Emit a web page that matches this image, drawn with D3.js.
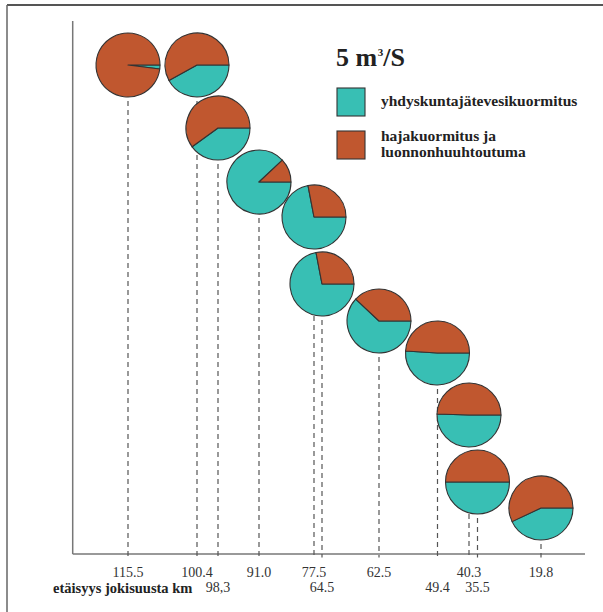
<!DOCTYPE html>
<html>
<head>
<meta charset="utf-8">
<script src="https://cdn.jsdelivr.net/npm/d3@7"></script>
<style>
  html, body { margin: 0; padding: 0; background: #fff; }
  svg { display: block; }
</style>
</head>
<body>
<svg id="chart" width="603" height="612"></svg>
<script>
// ---- DATA ----
const stationLabels = ["115.5", "100.4", "98,3", "91.0", "77.5", "64.5", "62.5", "49.4", "40.3", "35.5", "19.8"];
const distanceKm   = [115.5, 100.4, 98.3, 91.0, 77.5, 64.5, 62.5, 49.4, 40.3, 35.5, 19.8];
// share (%) of municipal wastewater load (yhdyskuntajätevesikuormitus)
const municipalShare = [2, 42, 40, 88, 72, 72, 62, 51, 50.5, 50, 43];
// share (%) of diffuse load and natural leaching (hajakuormitus ja luonnonhuuhtoutuma)
const diffuseShare   = [98, 58, 60, 12, 28, 28, 38, 49, 49.5, 50, 57];
const seriesNames = ["yhdyskuntajätevesikuormitus", ["hajakuormitus ja", "luonnonhuuhtoutuma"]];
const titleMain = "5 m";
const titleSup = "3";
const titleEnd = "/S";
const axisTitle = "etäisyys jokisuusta km";

// ---- LAYOUT (schematic positions) ----
const pieXpx = [128, 197, 218, 259, 314, 322, 379, 437.5, 469, 477.5, 541];
const pieYpx = [65, 65, 128, 182, 217, 284, 321, 353, 415, 482, 508];
const labelRow = [0, 0, 1, 0, 0, 1, 0, 1, 0, 1, 0];
const colors = ["#38bfb4", "#c0572f"];
const R = 32;

const svg = d3.select("#chart");
const font = "'Liberation Serif', 'Times New Roman', serif";

const x = d3.scaleLinear().domain(distanceKm).range(pieXpx);
const yPos = d3.scaleOrdinal().domain(stationLabels).range(pieYpx);

const axisY = 554, axisX0 = 72.7, axisX1 = 585, axisTop = 21;

// frame
svg.append("line").attr("x1", 7).attr("y1", 5).attr("x2", 603).attr("y2", 5)
  .attr("stroke", "#555").attr("stroke-width", 1.8);
svg.append("line").attr("x1", 7).attr("y1", 5).attr("x2", 7).attr("y2", 612)
  .attr("stroke", "#666").attr("stroke-width", 1.5);

// axes
svg.append("line").attr("x1", axisX0).attr("y1", axisTop).attr("x2", axisX0).attr("y2", axisY)
  .attr("stroke", "#777").attr("stroke-width", 1.5);
svg.append("line").attr("x1", axisX0).attr("y1", axisY).attr("x2", axisX1).attr("y2", axisY)
  .attr("stroke", "#777").attr("stroke-width", 1.5);

// dashed drop lines
svg.append("g").selectAll("line").data(distanceKm).join("line")
  .attr("x1", d => x(d)).attr("x2", d => x(d))
  .attr("y1", (d, i) => yPos(stationLabels[i]))
  .attr("y2", axisY + 3.5)
  .attr("stroke", "#555").attr("stroke-width", 1.2)
  .attr("stroke-dasharray", "5,4");

// tick labels
svg.append("g").selectAll("text").data(distanceKm).join("text")
  .attr("x", d => x(d))
  .attr("y", (d, i) => labelRow[i] ? 592 : 577)
  .attr("text-anchor", "middle")
  .attr("font-family", font).attr("font-size", 14).attr("fill", "#333")
  .text((d, i) => stationLabels[i]);

svg.append("text").attr("x", 53).attr("y", 592.5)
  .attr("font-family", font).attr("font-size", 14.5).attr("font-weight", "bold").attr("fill", "#222")
  .text(axisTitle);

// pies
const pie = d3.pie().sort(null).value(d => d)
  .startAngle(Math.PI / 2).endAngle(Math.PI / 2 + 2 * Math.PI);
const arc = d3.arc().innerRadius(0).outerRadius(R);

distanceKm.forEach((km, i) => {
  const g = svg.append("g")
    .attr("transform", `translate(${x(km)},${yPos(stationLabels[i])})`);
  g.selectAll("path").data(pie([municipalShare[i], diffuseShare[i]])).join("path")
    .attr("d", arc)
    .attr("fill", (d, j) => colors[j])
    .attr("stroke", "#333").attr("stroke-width", 1.1).attr("stroke-linejoin", "round");
});

// legend / title
const t = svg.append("text").attr("x", 336).attr("y", 66)
  .attr("font-family", font).attr("font-size", 26).attr("font-weight", "bold").attr("fill", "#222");
t.append("tspan").text(titleMain);
t.append("tspan").attr("font-size", 11).attr("dy", -10).attr("dx", 0.5).text(titleSup);
t.append("tspan").attr("dy", 10).text(titleEnd);

const legY = [88, 131];
legY.forEach((ly, i) => {
  svg.append("rect").attr("x", 337).attr("y", ly).attr("width", 28).attr("height", 28)
    .attr("fill", colors[i]).attr("stroke", "#333").attr("stroke-width", 1.1);
});
const legFont = 15.5;
svg.append("text").attr("x", 381).attr("y", 106)
  .attr("font-family", font).attr("font-size", legFont).attr("font-weight", "bold").attr("fill", "#222")
  .text(seriesNames[0]);
const legText2 = svg.append("text").attr("x", 381).attr("y", 141)
  .attr("font-family", font).attr("font-size", legFont).attr("font-weight", "bold").attr("fill", "#222");
legText2.append("tspan").attr("x", 381).text(seriesNames[1][0]);
legText2.append("tspan").attr("x", 381).attr("dy", 15.5).text(seriesNames[1][1]);
</script>
</body>
</html>
